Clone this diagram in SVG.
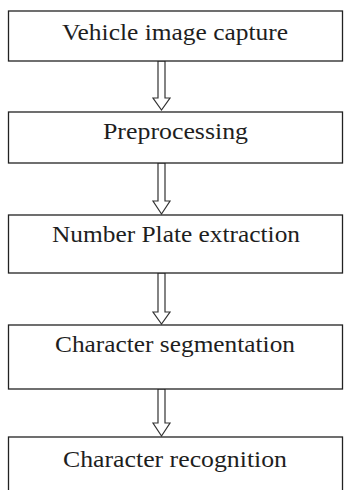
<svg xmlns="http://www.w3.org/2000/svg" width="344" height="490" viewBox="0 0 344 490">
<style>
.box{fill:#fff;stroke:#222;stroke-width:1.3}
.lbl{font-family:"Liberation Serif","Times New Roman",serif;font-size:23px;fill:#1e1e1e;text-anchor:middle}
.arr{fill:#fff;stroke:#333;stroke-width:1.2;stroke-linejoin:miter}
</style>
<rect width="344" height="490" fill="#fff"/>
<g id="connectors">
<polygon class="arr" points="158,61 165,61 165,98 170,98 161.5,110 153,98 158,98"/>
<polygon class="arr" points="158,163 165,163 165,201 170,201 161.5,214 153,201 158,201"/>
<polygon class="arr" points="158,273 165,273 165,312 170,312 161.5,324 153,312 158,312"/>
<polygon class="arr" points="158,389 165,389 165,423 170,423 161.5,436 153,423 158,423"/>
</g>
<g id="n1"><rect class="box" x="8.5" y="11" width="334" height="50"/><text class="lbl" x="175" y="40" textLength="226" lengthAdjust="spacingAndGlyphs">Vehicle image capture</text></g>
<g id="n2"><rect class="box" x="8.5" y="112" width="334" height="51"/><text class="lbl" x="175.5" y="139" textLength="145" lengthAdjust="spacingAndGlyphs">Preprocessing</text></g>
<g id="n3"><rect class="box" x="8.5" y="215" width="334" height="58"/><text class="lbl" x="176" y="242" textLength="248" lengthAdjust="spacingAndGlyphs">Number Plate extraction</text></g>
<g id="n4"><rect class="box" x="8.5" y="325" width="334" height="64"/><text class="lbl" x="175" y="352" textLength="240" lengthAdjust="spacingAndGlyphs">Character segmentation</text></g>
<g id="n5"><rect class="box" x="8.5" y="437" width="334" height="62"/><text class="lbl" x="175" y="467" textLength="224" lengthAdjust="spacingAndGlyphs">Character recognition</text></g>
</svg>
